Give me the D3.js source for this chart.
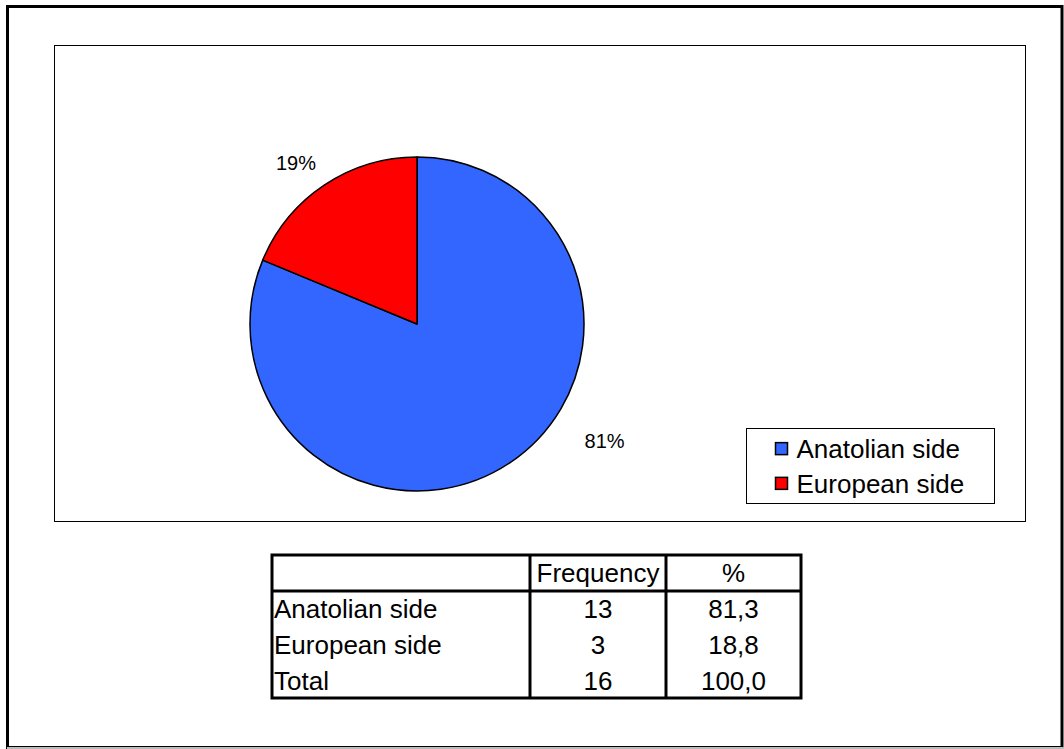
<!DOCTYPE html>
<html>
<head>
<meta charset="utf-8">
<script src="https://cdn.jsdelivr.net/npm/d3@7/dist/d3.min.js"></script>
<style>
  html, body { margin: 0; padding: 0; background: #fff; }
  svg { display: block; font-family: "Liberation Sans", Arial, sans-serif; }
</style>
</head>
<body>
<svg id="chart" width="1064" height="749"></svg>
<script>
// Residence side of respondents
const categories = ["Anatolian side", "European side"];
const frequencies = [13, 3];
const percentLabels = ["81%", "19%"];
const colors = ["#3366FF", "#FF0000"];

// Frequency table
const tableHeader = ["", "Frequency", "%"];
const tableRows = [
  ["Anatolian side", "13", "81,3"],
  ["European side", "3", "18,8"],
  ["Total", "16", "100,0"]
];

const svg = d3.select("#chart");

// outer frame
svg.append("rect")
  .attr("x", 7.5).attr("y", 6.5).attr("width", 1054.5).attr("height", 741)
  .attr("fill", "#fff").attr("stroke", "#000").attr("stroke-width", 3);
svg.append("line")
  .attr("x1", 7).attr("x2", 1064).attr("y1", 748).attr("y2", 748)
  .attr("stroke", "#bbb").attr("stroke-width", 2);

// plot area
svg.append("rect")
  .attr("x", 54.5).attr("y", 45.5).attr("width", 971).attr("height", 476)
  .attr("fill", "#fff").attr("stroke", "#000").attr("stroke-width", 1);

// pie
const cx = 417, cy = 324, r = 167;
const pie = d3.pie().sort(null).value(d => d)
  .startAngle(0).endAngle(2 * Math.PI);
const arcs = pie(frequencies);
const arc = d3.arc().innerRadius(0).outerRadius(r);

const g = svg.append("g").attr("transform", `translate(${cx},${cy})`);
g.selectAll("path.slice")
  .data(arcs)
  .join("path")
  .attr("class", "slice")
  .attr("d", arc)
  .attr("fill", (d, i) => colors[i])
  .attr("stroke", "#000")
  .attr("stroke-width", 1.5)
  .attr("stroke-linejoin", "round");

// percentage labels placed outside the slices
const labelRadius = [1.323 * r, 1.206 * r];
const labelShift = [-0.425, -0.056];   // angular nudge (radians) from the mid angle
function labelPos(d, i) {
  const a = (d.startAngle + d.endAngle) / 2 + labelShift[i];
  return [Math.sin(a) * labelRadius[i], -Math.cos(a) * labelRadius[i]];
}
g.selectAll("text.pct")
  .data(arcs)
  .join("text")
  .attr("class", "pct")
  .attr("x", (d, i) => labelPos(d, i)[0])
  .attr("y", (d, i) => labelPos(d, i)[1])
  .attr("dy", "0.35em")
  .attr("text-anchor", "middle")
  .attr("font-size", 20)
  .attr("fill", "#000")
  .text((d, i) => percentLabels[i]);

// legend
const legend = svg.append("g").attr("transform", "translate(746.5,428.5)");
legend.append("rect")
  .attr("width", 248).attr("height", 75)
  .attr("fill", "#fff").attr("stroke", "#000").attr("stroke-width", 1);
const legendRow = d3.scaleBand().domain(categories).range([0, 75]).paddingOuter(0.08);
const items = legend.selectAll("g.item")
  .data(categories)
  .join("g")
  .attr("class", "item")
  .attr("transform", d => `translate(0,${legendRow(d) + legendRow.bandwidth() / 2})`);
items.append("rect")
  .attr("x", 29).attr("y", -6).attr("width", 12).attr("height", 12)
  .attr("fill", (d, i) => colors[i])
  .attr("stroke", "#000").attr("stroke-width", 1.5);
items.append("text")
  .attr("x", 50).attr("dy", "0.36em")
  .attr("font-size", 26)
  .attr("fill", "#000")
  .text(d => d);

// table
const tX = 272, tY = 555, tW = 529, headerH = 36, rowH = 36;
const colEdges = [tX, 530, 666, tX + tW];
const tH = headerH + rowH * tableRows.length - 1;
const table = svg.append("g");

const textRowY = d3.scaleBand()
  .domain(d3.range(tableRows.length))
  .range([tY + headerH, tY + tH]);

function cellX(c) {
  return c === 0 ? colEdges[0] + 2 : (colEdges[c] + colEdges[c + 1]) / 2;
}
function cellAnchor(c) { return c === 0 ? "start" : "middle"; }

table.selectAll("text.head")
  .data(tableHeader)
  .join("text")
  .attr("class", "head")
  .attr("x", (d, c) => cellX(c))
  .attr("y", tY + headerH / 2)
  .attr("dy", "0.36em")
  .attr("text-anchor", (d, c) => cellAnchor(c))
  .attr("font-size", 26)
  .text(d => d);

tableRows.forEach((row, ri) => {
  table.selectAll(null)
    .data(row)
    .join("text")
    .attr("x", (d, c) => cellX(c))
    .attr("y", textRowY(ri) + textRowY.bandwidth() / 2)
    .attr("dy", "0.36em")
    .attr("text-anchor", (d, c) => cellAnchor(c))
    .attr("font-size", 26)
    .text(d => d);
});

// grid lines
table.append("rect")
  .attr("x", tX).attr("y", tY).attr("width", tW).attr("height", tH)
  .attr("fill", "none").attr("stroke", "#000").attr("stroke-width", 3);
table.append("line")
  .attr("x1", tX).attr("x2", tX + tW)
  .attr("y1", tY + headerH).attr("y2", tY + headerH)
  .attr("stroke", "#000").attr("stroke-width", 3);
[colEdges[1], colEdges[2]].forEach(x => {
  table.append("line")
    .attr("x1", x).attr("x2", x)
    .attr("y1", tY).attr("y2", tY + tH)
    .attr("stroke", "#000").attr("stroke-width", 3);
});
</script>
</body>
</html>
